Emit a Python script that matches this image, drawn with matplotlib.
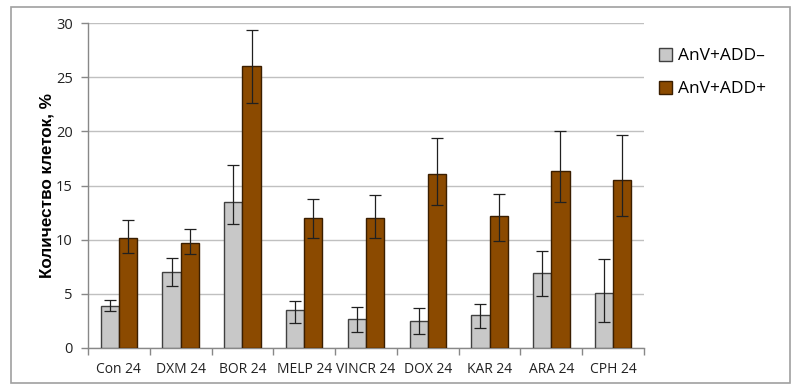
import matplotlib
matplotlib.use("Agg")
import matplotlib.pyplot as plt
import numpy as np
from matplotlib.patches import Rectangle

categories = ["Con 24", "DXM 24", "BOR 24", "MELP 24", "VINCR 24", "DOX 24", "KAR 24", "ARA 24", "CPH 24"]
neg_vals = [3.9, 7.0, 13.5, 3.5, 2.7, 2.5, 3.0, 6.95, 5.1]
neg_lo = [3.4, 5.7, 11.45, 2.3, 1.5, 1.3, 1.8, 4.8, 2.4]
neg_hi = [4.4, 8.3, 16.85, 4.3, 3.8, 3.7, 4.1, 9.0, 8.2]
pos_vals = [10.15, 9.7, 26.0, 12.0, 12.0, 16.05, 12.2, 16.3, 15.5]
pos_lo = [8.8, 8.65, 22.6, 10.2, 10.2, 13.2, 9.9, 13.5, 12.2]
pos_hi = [11.8, 10.95, 29.4, 13.75, 14.15, 19.4, 14.2, 20.05, 19.7]
series = ["AnV+ADD\u2013", "AnV+ADD+"]
yticks = [0, 5, 10, 15, 20, 25, 30]

plt.rcParams['font.family'] = ['Open Sans', 'DejaVu Sans']

fig = plt.figure(figsize=(8, 3.91), dpi=100)
ax = fig.add_axes([0.11, 0.11, 0.695, 0.831])

x = np.arange(len(categories))
w = 0.295
grey = "#C8C8C8"
brown = "#8B4A00"

nv = np.array(neg_vals); pv = np.array(pos_vals)
ax.bar(x - w/2, nv, w, color=grey, edgecolor="#404040", linewidth=1.0, zorder=3, label=series[0])
ax.bar(x + w/2, pv, w, color=brown, edgecolor="#3A1E00", linewidth=1.0, zorder=3, label=series[1])
ax.errorbar(x - w/2, nv, yerr=[nv - np.array(neg_lo), np.array(neg_hi) - nv], fmt='none',
            ecolor="#202020", elinewidth=0.9, capsize=4, capthick=0.9, zorder=4)
ax.errorbar(x + w/2, pv, yerr=[pv - np.array(pos_lo), np.array(pos_hi) - pv], fmt='none',
            ecolor="#202020", elinewidth=0.9, capsize=4, capthick=0.9, zorder=4)

ax.set_xlim(-0.5, len(categories) - 0.5)
ax.set_ylim(0, 30)
ax.set_yticks(yticks)
ax.set_yticklabels([str(t) for t in yticks], fontsize=10.5, color="#222222")
ax.yaxis.grid(True, color="#C0C0C0", linewidth=1.0, zorder=0)
ax.set_axisbelow(True)

ax.set_xticks(x)
ax.set_xticklabels(categories, fontsize=10, color="#222222")
ax.tick_params(axis='x', length=0, pad=10)
ax.set_xticks(np.arange(-0.5, len(categories) + 0.5, 1), minor=True)
ax.tick_params(axis='x', which='minor', length=5, color="#888888", width=1)
ax.tick_params(axis='y', length=5, color="#888888", width=1, pad=6)

for s in ["top", "right"]:
    ax.spines[s].set_visible(False)
for s in ["left", "bottom"]:
    ax.spines[s].set_color("#888888")
    ax.spines[s].set_linewidth(1.0)

ax.set_ylabel("Количество клеток, %", fontsize=12.3, fontweight='bold',
              family=['Liberation Sans', 'DejaVu Sans'], labelpad=1)

leg = ax.legend(loc='upper left', bbox_to_anchor=(1.015, 0.945), frameon=False, fontsize=12.5,
                handlelength=0.75, handleheight=0.75, handletextpad=0.3, labelspacing=0.95,
                borderaxespad=0)

fig.patches.append(Rectangle((11/800, 1 - 383/391), 779/800, 376/391, transform=fig.transFigure,
                             fill=False, edgecolor="#A0A0A0", linewidth=1.2))

fig.savefig("out.png", dpi=100, facecolor="white")
